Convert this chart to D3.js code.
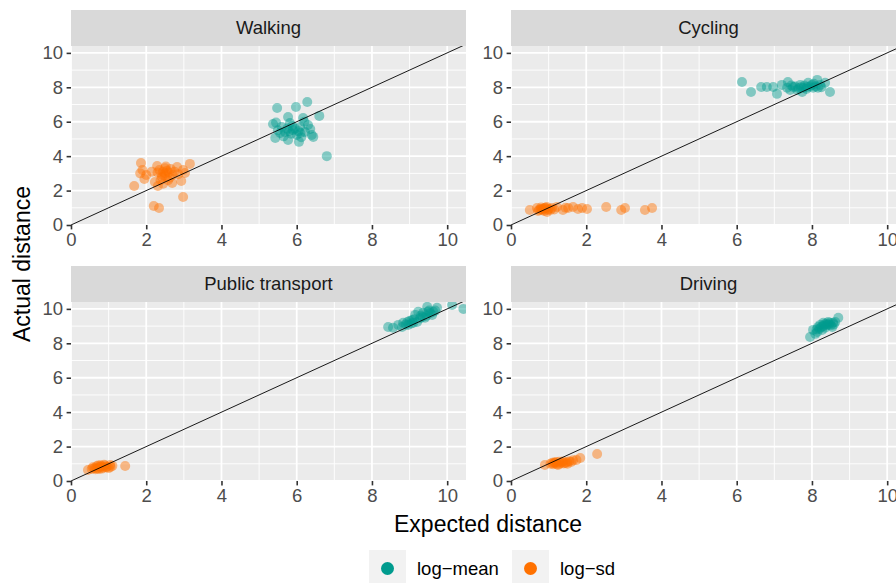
<!DOCTYPE html>
<html>
<head>
<meta charset="utf-8">
<script src="https://cdn.jsdelivr.net/npm/d3@7"></script>
<style>
  body { margin: 0; background: #fff; }
  svg { display: block; font-family: "Liberation Sans", Arial, sans-serif; }
</style>
</head>
<body>
<svg id="chart" width="896" height="583"></svg>
<script>
// facet names and axis ticks
const facets = ["Walking", "Cycling", "Public transport", "Driving"];
const xTicks = [0, 2, 4, 6, 8, 10];
const yTicks = [0, 2, 4, 6, 8, 10];
const seriesNames = ["log\u2212mean", "log\u2212sd"];

// [expected, actual] pairs
const walkingMean = [[5.48,6.8],[5.98,6.86],[6.28,7.15],[6.6,6.34],[5.77,6.28],[5.37,5.87],[6.8,4.0],[5.43,5.06],[6.44,5.12],[6.06,4.83],[5.77,4.94],[6.17,6.22],[5.9,5.52],[5.6,5.7],[6.36,5.58],[6.4,5.23],[5.69,5.4],[6.09,5.7],[5.82,5.93],[6.22,5.4],[6.0,5.23],[5.56,5.35],[6.3,5.81],[5.85,5.3],[5.95,5.6],[5.75,5.6],[6.05,5.45],[5.65,5.15],[5.5,5.5],[6.12,5.1],[5.88,5.75],[6.2,6.0],[5.45,5.95],[6.1,5.35],[5.8,5.45]];
const walkingSd = [[1.86,3.6],[1.68,2.27],[1.84,3.0],[2.0,2.9],[1.95,2.67],[2.29,3.43],[2.5,3.3],[3.16,3.55],[2.98,1.63],[2.2,1.1],[2.34,0.99],[2.69,2.44],[2.93,2.56],[2.31,2.27],[2.42,2.79],[2.82,3.37],[2.98,3.2],[3.03,3.02],[2.5,3.0],[1.9,3.2],[2.7,2.9],[2.23,2.5],[2.58,2.6],[2.45,3.1],[2.55,3.15],[2.4,2.95],[2.6,3.05],[2.35,3.2],[2.65,3.25],[2.5,2.85],[2.38,2.6],[2.45,2.4],[2.75,3.1],[2.62,2.75],[2.3,3.05],[2.52,3.4],[2.85,2.95],[2.15,3.1]];
const cyclingMean = [[6.14,8.31],[6.38,7.73],[6.65,8.02],[6.8,8.02],[6.97,8.02],[7.07,7.62],[7.2,8.14],[7.36,8.31],[7.34,7.97],[7.5,8.02],[7.69,8.14],[7.87,8.02],[8.14,8.43],[8.03,7.97],[8.22,8.14],[8.48,7.73],[8.35,8.26],[7.61,7.85],[7.9,8.26],[7.77,7.97],[8.0,8.14],[8.16,7.97],[7.42,7.85],[7.74,7.73],[7.55,8.05],[7.8,8.1],[7.95,8.05],[8.1,8.05],[7.65,7.95],[8.05,8.2],[7.85,7.9],[8.25,8.0],[7.45,8.1],[7.7,8.0]];
const cyclingSd = [[0.5,0.87],[0.69,0.99],[0.82,0.93],[0.9,0.99],[0.98,0.87],[1.09,0.99],[1.22,1.05],[1.38,0.87],[1.52,0.99],[1.65,1.05],[1.78,0.93],[2.02,0.93],[2.53,1.05],[2.93,0.87],[3.03,0.99],[3.56,0.87],[3.75,0.99],[0.85,0.87],[0.72,0.81],[0.96,0.76],[1.89,0.99],[0.78,0.9],[0.88,0.82],[0.92,1.0],[0.8,1.02],[1.0,0.95],[0.86,0.95],[0.75,0.88],[1.05,0.88],[0.95,1.05],[1.15,0.9],[1.45,1.0]];
const publicMean = [[8.43,8.95],[8.56,8.9],[8.7,9.07],[8.83,9.19],[8.94,9.24],[9.07,9.36],[9.15,9.65],[9.23,9.83],[9.47,10.12],[9.49,9.83],[9.6,9.65],[9.73,10.06],[9.34,9.53],[9.2,9.24],[8.96,9.07],[10.13,10.23],[10.43,10.0],[9.41,9.48],[9.63,9.83],[9.1,9.19],[9.36,9.77],[8.8,8.95],[9.0,9.3],[9.28,9.45],[9.55,9.75],[9.45,9.6],[9.12,9.4],[8.9,9.1],[9.68,9.9],[9.3,9.6],[9.52,9.9],[9.05,9.15]];
const publicSd = [[0.45,0.64],[1.44,0.87],[0.77,0.81],[1.04,0.93],[0.55,0.7],[0.62,0.75],[0.7,0.72],[0.8,0.85],[0.85,0.78],[0.9,0.9],[0.95,0.82],[1.0,0.75],[0.68,0.85],[0.75,0.7],[0.88,0.95],[0.58,0.8],[1.1,0.88],[0.82,0.72],[0.93,0.8],[0.72,0.9],[0.65,0.68],[1.05,0.82],[0.78,0.92]];
const drivingMean = [[7.95,8.37],[8.03,8.78],[8.16,8.95],[8.3,9.19],[8.43,9.24],[8.56,9.19],[8.7,9.48],[8.14,8.66],[8.35,8.9],[8.54,8.95],[8.22,9.07],[8.09,8.55],[8.62,9.24],[8.4,9.07],[8.27,8.78],[8.3,9.0],[8.45,9.1],[8.2,8.85],[8.38,9.15],[8.5,9.05],[8.25,8.95],[8.48,9.2],[8.33,9.1],[8.12,8.8],[8.58,9.1]];
const drivingSd = [[0.9,0.93],[1.17,1.05],[1.49,1.1],[1.84,1.34],[2.29,1.57],[1.25,0.93],[1.6,1.1],[1.74,1.22],[1.05,1.0],[1.12,0.98],[1.2,1.1],[1.3,1.0],[1.35,1.08],[1.4,1.02],[1.28,1.12],[1.45,1.05],[1.55,1.15],[1.65,1.2],[1.15,1.08],[1.38,1.14],[1.22,0.98],[1.5,1.0],[1.1,1.06]];

const meanData = [walkingMean, cyclingMean, publicMean, drivingMean];
const sdData = [walkingSd, cyclingSd, publicSd, drivingSd];

const colors = ["#009B8E", "#FF7100"];

const svg = d3.select("#chart");

// panel layout
const panelW = 395, panelH = 179, stripH = 36;
const panelPos = [[71, 46], [511, 46], [71, 302], [511, 302]];

const x = d3.scaleLinear().domain([0, 10.5]).range([0, panelW]);
const y = d3.scaleLinear().domain([0, 10.4]).range([panelH, 0]);

for (let i in facets) {
    let px = panelPos[i][0], py = panelPos[i][1];

    // strip
    svg.append("rect")
        .attr("x", px).attr("y", py - stripH)
        .attr("width", panelW).attr("height", stripH)
        .style("fill", "#D9D9D9");
    svg.append("text")
        .attr("x", px + panelW / 2).attr("y", py - stripH / 2)
        .attr("dy", "0.35em")
        .attr("text-anchor", "middle")
        .style("font-size", "18.5px")
        .style("fill", "#1A1A1A")
        .text(facets[i]);

    let g = svg.append("g").attr("transform", `translate(${px},${py})`);

    g.append("clipPath").attr("id", `clip-${i}`)
        .append("rect").attr("width", panelW).attr("height", panelH);

    g.append("rect")
        .attr("width", panelW).attr("height", panelH)
        .style("fill", "#EBEBEB");

    // minor grid
    let minor = [1, 3, 5, 7, 9];
    g.selectAll(".minx").data(minor).enter().append("line")
        .attr("x1", d => x(d)).attr("x2", d => x(d))
        .attr("y1", 0).attr("y2", panelH)
        .style("stroke", "#fff").style("stroke-width", 0.9);
    g.selectAll(".miny").data(minor).enter().append("line")
        .attr("y1", d => y(d)).attr("y2", d => y(d))
        .attr("x1", 0).attr("x2", panelW)
        .style("stroke", "#fff").style("stroke-width", 0.9);

    // major grid
    g.selectAll(".majx").data(xTicks).enter().append("line")
        .attr("x1", d => x(d)).attr("x2", d => x(d))
        .attr("y1", 0).attr("y2", panelH)
        .style("stroke", "#fff").style("stroke-width", 1.8);
    g.selectAll(".majy").data(yTicks).enter().append("line")
        .attr("y1", d => y(d)).attr("y2", d => y(d))
        .attr("x1", 0).attr("x2", panelW)
        .style("stroke", "#fff").style("stroke-width", 1.8);

    let plot = g.append("g").attr("clip-path", `url(#clip-${i})`);

    [meanData[i], sdData[i]].forEach((pts, s) => {
        plot.selectAll(`.pt${s}`).data(pts).enter().append("circle")
            .attr("cx", d => x(d[0]))
            .attr("cy", d => y(d[1]))
            .attr("r", 5)
            .style("fill", colors[s])
            .style("fill-opacity", 0.45);
    });

    // y = x reference line
    plot.append("line")
        .attr("x1", x(0)).attr("y1", y(0))
        .attr("x2", x(10.5)).attr("y2", y(10.5))
        .style("stroke", "#000").style("stroke-width", 0.9);

    // axes
    let xAxis = g.append("g")
        .attr("transform", `translate(0,${panelH})`)
        .call(d3.axisBottom(x).tickValues(xTicks).tickSize(4.4).tickPadding(3.5));
    let yAxis = g.append("g")
        .call(d3.axisLeft(y).tickValues(yTicks).tickSize(4.4).tickPadding(3.5));
    [xAxis, yAxis].forEach(a => {
        a.select(".domain").remove();
        a.selectAll("line").style("stroke", "#333").style("stroke-width", 1.6);
        a.selectAll("text")
            .style("font-size", "18.5px")
            .style("fill", "#4D4D4D")
            .style("font-family", "Liberation Sans, Arial, sans-serif");
    });
}

// axis titles
svg.append("text")
    .attr("x", 488).attr("y", 524)
    .attr("dy", "0.35em")
    .attr("text-anchor", "middle")
    .style("font-size", "23px")
    .text("Expected distance");
svg.append("text")
    .attr("transform", "translate(22,264) rotate(-90)")
    .attr("dy", "0.35em")
    .attr("text-anchor", "middle")
    .style("font-size", "23px")
    .text("Actual distance");

// legend
const legendX = [369, 512];
seriesNames.forEach((name, s) => {
    let lg = svg.append("g").attr("transform", `translate(${legendX[s]},550)`);
    lg.append("rect")
        .attr("width", 37).attr("height", 37)
        .style("fill", "#F2F2F2");
    lg.append("circle")
        .attr("cx", 18.5).attr("cy", 18.5).attr("r", 6.5)
        .style("fill", colors[s]);
    lg.append("text")
        .attr("x", 48).attr("y", 18.5)
        .attr("dy", "0.35em")
        .style("font-size", "18.5px")
        .text(name);
});
</script>
</body>
</html>
